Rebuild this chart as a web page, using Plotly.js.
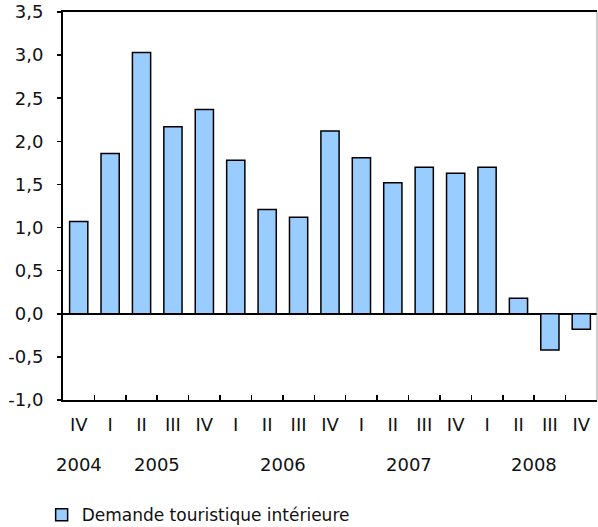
<!DOCTYPE html>
<html>
<head>
<meta charset="utf-8">
<script src="https://cdn.plot.ly/plotly-3.0.1.min.js"></script>
<style>html,body{margin:0;padding:0;background:#fff;}</style>
</head>
<body>
<div id="chart" style="width:598px;height:527px;"></div>
<script>
var years = ["2004","2005","2005","2005","2005","2006","2006","2006","2006","2007","2007","2007","2007","2008","2008","2008","2008"];
var quarters = ["IV","I","II","III","IV","I","II","III","IV","I","II","III","IV","I","II","III","IV"];
var values = [1.07,1.86,3.03,2.17,2.37,1.78,1.21,1.12,2.12,1.81,1.52,1.70,1.63,1.70,0.18,-0.42,-0.18];
var yTickValues = [-1,-0.5,0,0.5,1,1.5,2,2.5,3,3.5];
var yTickLabels = ["-1,0","-0,5","0,0","0,5","1,0","1,5","2,0","2,5","3,0","3,5"];
var seriesName = "Demande touristique intérieure";

var periods = years.map(function(y,i){ return y + " " + quarters[i]; });

var font = {family: 'DejaVu Sans, Arial, sans-serif', size: 18, color: '#111111'};
var legendFont = {family: 'DejaVu Sans, Arial, sans-serif', size: 17, color: '#111111'};

// year labels centred under their quarters
var yearList = [];
years.forEach(function(y){ if (yearList.indexOf(y) < 0) yearList.push(y); });
var yearAnnotations = yearList.map(function(y){
  var idx = [];
  years.forEach(function(v,i){ if (v === y) idx.push(i); });
  var c = idx.reduce(function(a,b){return a+b;},0) / idx.length;
  return {x: c, xref: 'x', y: -0.1675, yref: 'paper', text: y, showarrow: false,
          xanchor: 'center', yanchor: 'middle', font: font};
});

var trace = {
  type: 'bar', x: periods, y: values, name: seriesName,
  marker: {color: '#99ccff', line: {color: '#000000', width: 1.5}},
  showlegend: true, hoverinfo: 'none'
};

var layout = {
  width: 598, height: 527,
  margin: {l: 63, r: 1, t: 12, b: 127, pad: 0, autoexpand: false},
  paper_bgcolor: '#ffffff', plot_bgcolor: '#ffffff',
  font: font,
  bargap: 0.42,
  showlegend: true,
  legend: {orientation: 'h', x: -0.04, xanchor: 'left', y: -0.297, yanchor: 'middle',
           font: legendFont, bgcolor: 'rgba(0,0,0,0)'},
  xaxis: {
    type: 'category', categoryorder: 'array', categoryarray: periods,
    tickmode: 'array', tickvals: periods, ticktext: quarters,
    tickson: 'boundaries', ticks: 'inside', ticklen: 5, tickwidth: 1.5, tickcolor: '#000',
    showline: true, linecolor: '#000', linewidth: 2, mirror: true,
    showgrid: false, zeroline: false, range: [-0.5, 16.5],
    ticklabelstandoff: 7, tickfont: font, fixedrange: true, automargin: false
  },
  yaxis: {
    range: [-1, 3.5], tickmode: 'array', tickvals: yTickValues, ticktext: yTickLabels,
    ticks: 'outside', ticklen: 4, tickwidth: 1.5, tickcolor: '#000',
    showline: true, linecolor: '#000', linewidth: 2,
    showgrid: false, zeroline: true, zerolinecolor: '#000', zerolinewidth: 1.5,
    ticklabelstandoff: 10, tickfont: font, fixedrange: true, automargin: false
  },
  shapes: [
    {type: 'line', xref: 'paper', yref: 'paper', x0: 1, x1: 1, y0: 0, y1: 1,
     line: {color: '#9a9a9a', width: 1}}
  ],
  annotations: yearAnnotations
};

Plotly.newPlot('chart', [trace], layout, {displayModeBar: false, staticPlot: true});
</script>
</body>
</html>
